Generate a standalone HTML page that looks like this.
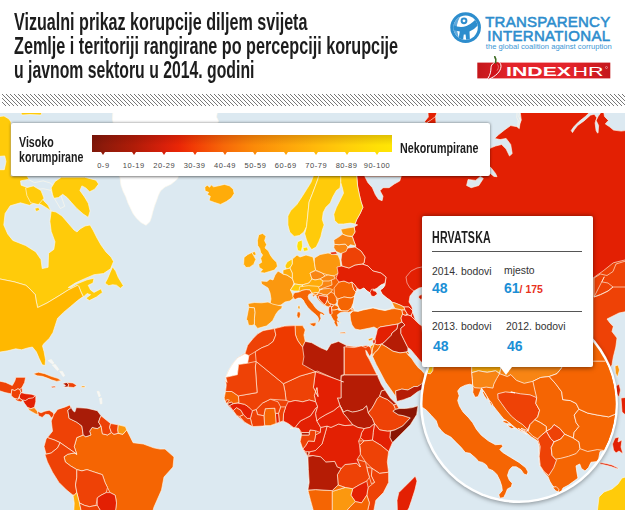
<!DOCTYPE html>
<html><head><meta charset="utf-8"><title>Indeks percepcije korupcije 2014</title>
<style>
html,body{margin:0;padding:0;background:#fff;}
body{width:625px;height:510px;overflow:hidden;position:relative;font-family:"Liberation Sans",sans-serif;}
.t{position:absolute;left:14px;white-space:nowrap;font-size:24px;font-weight:bold;color:#1d1d1d;transform-origin:0 0;line-height:24px;}
#map{position:absolute;left:0;top:113px;width:625px;height:397px;overflow:hidden;background:#dce9f1;}
#hatch{position:absolute;left:2px;top:93px;width:623px;height:13px;
 background:repeating-linear-gradient(45deg,#fff 0,#fff 1.9px,#8a8a8a 1.9px,#8a8a8a 2.8px);}
#legend{position:absolute;left:11px;top:123px;width:479px;height:53px;background:#fff;border-radius:2px;box-shadow:0 .5px 3px rgba(0,0,0,.55);}
#bar{position:absolute;left:81px;top:12px;width:300px;height:16.6px;
 background:linear-gradient(180deg,rgba(60,0,0,.16),rgba(60,0,0,0) 60%),linear-gradient(90deg,#7e1709 0%,#8e1a0a 4%,#b01c08 14%,#d8200a 24%,#ea2606 29%,#f23c05 34%,#f76808 44%,#fb8a08 54%,#fea30a 64.5%,#ffb90a 74.5%,#ffcd0a 84.5%,#ffe005 95%,#ffe605 100%);}
.lg{position:absolute;font-weight:bold;font-size:14px;color:#1d1d1d;white-space:nowrap;transform-origin:0 0;transform:scaleX(.76);line-height:14px;}
.lb{position:absolute;top:37.6px;width:40px;margin-left:-20px;text-align:center;font-size:7.5px;color:#484848;letter-spacing:.55px;line-height:9px;}
.tk{position:absolute;top:28.5px;width:0;height:0;border-left:2px solid transparent;border-right:2px solid transparent;margin-left:-2px;}
#tip{position:absolute;left:422px;top:215.7px;width:171px;height:151.8px;background:#fff;border-radius:2px;box-shadow:0 .5px 5px rgba(0,0,0,.5);}
#tip:after{content:"";position:absolute;left:78px;top:151px;border-left:6.5px solid transparent;border-right:6.5px solid transparent;border-top:8px solid #fff;}
.hr{position:absolute;left:10px;width:150px;height:1px;background:#555;}
.k{position:absolute;font-size:10.4px;color:#333;white-space:nowrap;line-height:11px;}
.v{position:absolute;font-size:14px;font-weight:bold;color:#1b8fd6;white-space:nowrap;line-height:14px;}
</style></head><body>

<div class="t" style="top:10px;transform:scaleX(.6714)">Vizualni prikaz korupcije diljem svijeta</div>
<div class="t" style="top:34.2px;transform:scaleX(.6745)">Zemlje i teritoriji rangirane po percepciji korupcije</div>
<div class="t" style="top:57.7px;transform:scaleX(.658)">u javnom sektoru u 2014. godini</div>
<svg width="623" height="12" style="position:absolute;left:2px;top:94px" shape-rendering="crispEdges"><defs><pattern id="hp" width="4" height="4" patternUnits="userSpaceOnUse"><rect x="0" y="0" width="1" height="1" fill="#787878"/><rect x="1" y="1" width="1" height="1" fill="#787878"/><rect x="2" y="2" width="1" height="1" fill="#787878"/><rect x="3" y="3" width="1" height="1" fill="#787878"/></pattern></defs><rect width="623" height="12" fill="url(#hp)"/></svg>
<svg width="180" height="92" viewBox="445 0 180 92" style="position:absolute;left:445px;top:0">
<defs><linearGradient id="rg" x1="0" x2="1" y1="0" y2="0"><stop offset="0" stop-color="#c4161a"/><stop offset=".25" stop-color="#e3232a"/><stop offset=".7" stop-color="#e3232a"/><stop offset="1" stop-color="#c4161a"/></linearGradient>
<clipPath id="lc"><circle cx="465.6" cy="27.6" r="12.2"/></clipPath></defs>
<circle cx="465.6" cy="27.6" r="15.3" fill="#2d8dcd"/>
<circle cx="465.6" cy="27.6" r="12.2" fill="#fff"/>
<g clip-path="url(#lc)">
<path d="M452 14 L462 14 Q456 22 457 30 Q458 38 462 42 L452 42 Z" fill="#5fa9dc"/>
<path d="M453 25 Q460 28.5 466.5 26 Q473.5 23 477.5 16.5 L481.5 20.5 Q476 29 469.5 31.5 L470 42 L466.3 42 L465.6 34.5 L463.8 34.5 L462.8 42 L458 42 L459.8 31.5 Q456 30.8 452.5 29.5 Z" fill="#2d8dcd"/>
<circle cx="464" cy="20.8" r="3.4" fill="#2d8dcd"/><circle cx="464" cy="20.8" r="1.4" fill="#fff"/>
</g>
<text x="485.2" y="26.7" font-family="Liberation Sans, sans-serif" font-size="15" fill="#2d8dcd" stroke="#2d8dcd" stroke-width=".55" textLength="125" lengthAdjust="spacing">TRANSPARENCY</text>
<text x="487.2" y="40.6" font-family="Liberation Sans, sans-serif" font-size="15" fill="#2d8dcd" stroke="#2d8dcd" stroke-width=".55" textLength="123" lengthAdjust="spacing">INTERNATIONAL</text>
<text x="485.8" y="48.6" font-family="Liberation Sans, sans-serif" font-size="7" fill="#3d97d4" textLength="126" lengthAdjust="spacingAndGlyphs">the global coalition against corruption</text>
<rect x="477.3" y="62.6" width="133" height="15.8" fill="url(#rg)"/>
<path d="M493.6 63.2 C496.5 60.2 501.2 61.8 501 66.4 C500.8 71.6 495.2 76.6 488.8 79.2 C488 79.4 487.6 78.6 488.1 78 C490.4 74.8 490.9 70.8 491 67.8 C491.1 65.4 492 64.4 493.6 63.2 Z" fill="#cf1219" stroke="#fff" stroke-width="1"/><path d="M497.5 64.5 C499 66 498.6 68.5 497 70.6" stroke="#f0827f" stroke-width=".8" fill="none"/>
<path d="M495.6 62.8 Q496.6 59.5 494.8 56.8" stroke="#3d6b22" stroke-width="1.7" fill="none" stroke-linecap="round"/>
<text x="506" y="75.6" font-family="Liberation Sans, sans-serif" font-size="12.8" font-weight="bold" fill="#fff" textLength="65" lengthAdjust="spacingAndGlyphs">INDEX</text>
<text x="572.5" y="75.6" font-family="Liberation Sans, sans-serif" font-size="12.8" fill="#fff" textLength="31" lengthAdjust="spacingAndGlyphs">HR</text>
<circle cx="606.5" cy="67.5" r="1" fill="none" stroke="#fff" stroke-width=".4"/>
</svg>
<div id="map"><svg width="625" height="397" viewBox="0 113 625 397" style="position:absolute;left:0;top:0">
<polygon points="-4.0,117.0 4.0,116.0 9.0,119.0 11.0,122.0 11.0,176.0 27.0,176.0 31.0,183.0 27.0,187.0 34.0,190.0 41.0,196.0 44.0,201.0 48.0,205.0 51.0,211.0 56.0,212.0 62.0,216.0 68.0,223.0 74.0,230.0 77.0,232.0 80.0,229.0 85.0,226.0 90.0,225.0 93.0,230.0 97.0,238.0 101.0,245.0 106.0,252.0 111.0,257.0 113.5,261.5 110.6,268.8 103.5,273.5 94.0,274.7 84.7,278.7 75.3,283.0 68.2,287.6 70.6,287.8 77.6,283.6 87.0,279.8 94.0,278.2 93.0,283.0 88.2,285.3 90.6,290.0 94.0,292.4 101.0,288.8 102.4,292.4 96.5,297.0 89.4,300.6 85.9,298.2 90.6,294.7 87.0,293.5 83.5,297.0 81.2,292.4 78.8,286.5 77.6,285.3 73.0,287.6 68.2,290.0 58.8,295.9 47.0,303.0 37.6,307.6 36.0,300.0 35.3,294.7 30.0,289.0 25.9,285.3 14.1,281.8 -4.0,278.2" fill="#ffcb0a" stroke="rgba(255,248,235,.75)" stroke-width="0.85" stroke-linejoin="round" />
<polygon points="19.0,109.0 43.0,109.0 41.0,115.0 30.0,114.5 22.0,115.0" fill="#ffcb0a" stroke="rgba(255,248,235,.75)" stroke-width="0.85" stroke-linejoin="round" />
<polygon points="5.1,213.5 10.2,205.8 20.5,202.8 29.4,205.3 34.6,202.8 41.0,204.6 47.4,208.4 51.2,211.0 49.9,221.2 51.2,231.4 55.0,241.7 53.8,249.4 48.6,253.2 48.1,267.3 42.2,268.6 41.0,259.6 35.8,251.9 25.6,245.5 12.8,240.4 7.7,234.0 3.8,225.0" fill="#dce9f1" stroke="rgba(255,248,235,.75)" stroke-width="0.85" stroke-linejoin="round" />
<polygon points="-4.0,156.7 4.7,155.9 6.0,161.5 4.3,169.7 -4.0,169.7" fill="#dce9f1" stroke="rgba(255,248,235,.75)" stroke-width="0.85" stroke-linejoin="round" />
<polygon points="20.5,180.9 28.0,179.4 34.5,182.6 43.1,180.9 50.7,183.1 53.9,186.9 51.3,190.4 43.1,188.7 34.5,189.5 25.9,186.9 21.1,185.2" fill="#dce9f1" stroke="rgba(255,248,235,.75)" stroke-width="0.85" stroke-linejoin="round" />
<polygon points="53.9,186.9 59.3,191.2 62.5,199.9 64.7,206.3 60.4,208.5 56.5,202.0 52.8,195.6 51.3,190.4" fill="#dce9f1" stroke="rgba(255,248,235,.75)" stroke-width="0.85" stroke-linejoin="round" />
<polygon points="25.6,187.9 33.3,185.9 41.0,190.5 44.0,198.2 38.4,204.6 30.7,202.8 26.9,195.6" fill="#ffcb0a" stroke="rgba(255,248,235,.75)" stroke-width="0.85" stroke-linejoin="round" />
<polygon points="34.6,208.4 38.4,207.4 39.9,209.9 36.4,211.5" fill="#ffcb0a" stroke="rgba(255,248,235,.75)" stroke-width="0.85" stroke-linejoin="round" />
<polygon points="52.5,194.3 51.2,187.9 55.0,181.5 61.4,177.2 84.5,177.2 96.0,180.2 98.6,184.1 94.7,189.2 89.6,191.8 85.8,187.9 81.9,185.9 79.9,190.5 84.5,196.9 88.3,203.3 90.1,211.0 88.3,217.4 83.2,214.0 76.8,208.4 71.7,202.8 67.1,197.6 62.7,194.3 58.4,197.6 53.8,198.2" fill="#ffcb0a" stroke="rgba(255,248,235,.75)" stroke-width="0.85" stroke-linejoin="round" />
<polygon points="112.6,266.8 115.7,271.1 118.3,277.5 123.4,285.7 120.3,288.3 116.5,285.2 112.6,284.7 108.8,285.7 105.0,283.2 107.5,278.8 110.1,272.4" fill="#ffcb0a" stroke="rgba(255,248,235,.75)" stroke-width="0.85" stroke-linejoin="round" />
<polygon points="-4.0,278.2 14.1,281.8 25.9,285.3 30.0,289.0 35.3,294.7 36.0,300.0 37.6,307.6 47.0,303.0 58.8,295.9 68.2,290.0 73.0,287.6 77.6,285.3 78.8,286.5 81.2,292.4 83.5,297.0 82.4,297.1 77.6,300.6 70.6,306.5 63.5,312.4 57.6,318.2 55.3,325.3 53.0,332.4 49.4,338.2 43.5,344.1 42.5,346.0 44.1,351.8 45.5,359.6 45.1,365.5 42.2,364.8 39.2,358.6 36.3,351.8 32.4,347.0 27.5,348.0 21.6,349.8 15.7,348.8 7.8,350.8 -4.0,352.7" fill="#ffb800" stroke="rgba(255,248,235,.75)" stroke-width="0.85" stroke-linejoin="round" />
<polygon points="113.0,109.0 218.0,109.0 216.5,117.0 218.5,121.0 217.0,125.0 200.0,150.0 180.0,170.0 177.7,178.6 175.0,181.0 171.0,184.3 165.0,187.0 160.4,191.0 158.3,195.5 156.5,200.7 154.5,206.0 152.7,212.2 151.5,217.0 149.8,221.8 146.0,225.3 141.0,222.5 136.3,218.0 133.0,213.5 130.6,208.4 128.0,203.0 125.8,196.8 123.0,191.0 121.0,185.3 120.0,177.6 116.0,170.0 113.5,125.0 112.5,119.0" fill="#ffffff" stroke="rgba(255,248,235,.75)" stroke-width="0.85" stroke-linejoin="round" />
<polygon points="204.8,187.2 207.2,185.2 209.7,187.2 211.1,184.8 213.6,186.8 218.5,185.8 224.4,184.4 229.3,185.8 233.2,189.1 234.2,193.6 231.3,198.1 226.4,201.5 220.5,204.4 214.6,202.5 209.1,200.5 210.3,196.2 207.2,194.6 208.7,192.3 205.2,191.1" fill="#ffac0a" stroke="rgba(255,248,235,.75)" stroke-width="0.85" stroke-linejoin="round" />
<polygon points="-4.0,380.4 5.6,382.4 12.3,385.5 14.8,381.1 15.9,377.3 25.6,377.3 24.6,382.4 22.0,387.5 20.0,389.6 17.9,388.8 14.8,390.6 11.8,389.6 11.3,393.9 5.1,392.6 -4.0,389.6" fill="#ee4206" stroke="rgba(255,248,235,.75)" stroke-width="0.85" stroke-linejoin="round" />
<polygon points="11.8,389.6 14.8,390.6 17.9,388.8 20.0,389.6 21.0,392.6 19.5,395.7 17.9,399.3 14.1,398.3 11.3,395.7 11.3,393.9" fill="#ee4206" stroke="rgba(255,248,235,.75)" stroke-width="0.85" stroke-linejoin="round" />
<polygon points="20.0,389.6 22.0,387.5 22.5,392.1 21.0,392.6" fill="#ee4206" stroke="rgba(255,248,235,.75)" stroke-width="0.85" stroke-linejoin="round" />
<polygon points="21.0,392.6 25.6,393.7 31.2,394.2 35.8,395.7 32.8,398.3 28.7,398.8 25.6,400.8 22.5,400.3 19.5,398.3 19.5,395.7" fill="#e32003" stroke="rgba(255,248,235,.75)" stroke-width="0.85" stroke-linejoin="round" />
<polygon points="14.1,398.3 17.9,399.3 19.5,398.3 22.5,400.3 21.0,401.9 16.9,400.8" fill="#ee4206" stroke="rgba(255,248,235,.75)" stroke-width="0.85" stroke-linejoin="round" />
<polygon points="22.5,400.0 25.6,400.5 28.7,398.4 32.8,397.9 35.8,395.4 35.8,401.8 34.3,407.6 30.7,408.7 27.6,407.6 24.6,403.6" fill="#e32003" stroke="rgba(255,248,235,.75)" stroke-width="0.85" stroke-linejoin="round" />
<polygon points="27.6,407.6 30.7,408.7 34.3,407.6 37.4,411.2 38.4,414.8 35.3,413.8 31.7,411.7 29.2,410.2" fill="#f88514" stroke="rgba(255,248,235,.75)" stroke-width="0.85" stroke-linejoin="round" />
<polygon points="37.4,411.2 41.0,412.8 44.8,411.2 49.2,410.2 53.3,412.8 54.3,415.8 51.2,417.9 49.2,414.8 45.6,414.3 42.2,417.4 38.4,415.8 38.4,414.8" fill="#ee4206" stroke="rgba(255,248,235,.75)" stroke-width="0.85" stroke-linejoin="round" />
<polygon points="33.3,373.7 38.4,372.2 44.8,373.7 51.2,376.3 57.6,378.3 61.4,380.4 56.8,381.4 51.2,379.8 48.6,378.6 42.2,376.3 37.1,375.8" fill="#f56503" stroke="rgba(255,248,235,.75)" stroke-width="0.85" stroke-linejoin="round" />
<polygon points="62.7,383.4 67.1,382.4 68.6,384.5 68.1,387.0 63.5,387.0 65.5,385.5" fill="#b51c05" stroke="rgba(255,248,235,.75)" stroke-width="0.85" stroke-linejoin="round" />
<polygon points="67.1,382.4 73.0,382.9 76.8,385.5 73.7,387.5 68.1,387.0 68.6,384.5" fill="#ee4206" stroke="rgba(255,248,235,.75)" stroke-width="0.85" stroke-linejoin="round" />
<polygon points="50.7,386.5 55.0,386.0 55.8,387.5 52.2,387.8" fill="#ee4206" stroke="rgba(255,248,235,.75)" stroke-width="0.85" stroke-linejoin="round" />
<polygon points="48.0,360.6 51.4,359.6 53.9,363.1 52.5,363.9" fill="#f4f7f9" stroke="rgba(255,248,235,.75)" stroke-width="0.85" stroke-linejoin="round" />
<polygon points="52.5,365.1 55.3,364.5 58.8,369.4 57.3,370.6" fill="#f4f7f9" stroke="rgba(255,248,235,.75)" stroke-width="0.85" stroke-linejoin="round" />
<polygon points="59.8,371.4 62.4,371.4 64.7,375.7 63.1,376.5" fill="#f4f7f9" stroke="rgba(255,248,235,.75)" stroke-width="0.85" stroke-linejoin="round" />
<polygon points="97.1,391.4 99.0,391.4 100.4,395.9 99.0,396.9" fill="#f4f7f9" stroke="rgba(255,248,235,.75)" stroke-width="0.85" stroke-linejoin="round" />
<polygon points="99.6,398.4 101.6,398.0 102.0,403.7 100.4,403.9" fill="#f4f7f9" stroke="rgba(255,248,235,.75)" stroke-width="0.85" stroke-linejoin="round" />
<polygon points="81.4,386.0 85.0,386.0 85.0,387.5 81.4,387.5" fill="#fb980f" stroke="rgba(255,248,235,.75)" stroke-width="0.85" stroke-linejoin="round" />
<polygon points="84.0,470.0 125.0,470.0 125.0,514.0 84.0,514.0" fill="#ee4206" stroke="rgba(255,248,235,.75)" stroke-width="0.85" stroke-linejoin="round" />
<polygon points="83.2,435.0 85.8,436.8 90.9,435.0 89.6,431.2 92.2,427.4 97.3,428.6 101.1,426.1 102.4,433.8 107.5,435.0 111.4,432.5 113.9,434.3 118.3,433.3 122.9,434.3 126.7,429.9 129.3,435.0 133.1,442.7 143.4,444.0 153.6,447.8 160.0,449.1 165.0,449.0 174.0,457.0 173.0,467.0 164.0,477.0 161.5,490.0 154.0,507.0 152.0,514.0 115.0,514.0 116.5,502.9 115.2,495.2 110.1,492.6 107.5,487.5 105.0,482.4 102.4,474.7 94.7,472.2 87.0,469.6 81.9,470.9 76.8,469.6 70.4,465.8 65.3,461.9 64.0,456.8 67.8,454.2 74.2,453.0 76.8,454.2 74.2,446.6 76.8,437.6" fill="#f56503" stroke="rgba(255,248,235,.75)" stroke-width="0.85" stroke-linejoin="round" />
<polygon points="53.8,414.6 57.6,409.4 65.3,406.9 69.6,405.1 71.2,407.6 67.8,410.2 69.1,418.4 76.8,422.2 81.9,426.1 83.2,435.0 76.8,437.6 74.2,446.6 76.8,454.2 60.2,442.7 55.0,440.2 47.4,437.6 52.5,431.2 51.2,421.0" fill="#ee4206" stroke="rgba(255,248,235,.75)" stroke-width="0.85" stroke-linejoin="round" />
<polygon points="71.2,407.6 73.0,410.7 74.8,412.0 76.3,407.6 87.0,408.2 97.3,410.7 101.1,415.8 99.8,418.4 98.6,422.2 101.1,426.1 97.3,428.6 92.2,427.4 89.6,431.2 90.9,435.0 85.8,436.8 83.2,435.0 81.9,426.1 76.8,422.2 69.1,418.4 67.8,410.2" fill="#a81c08" stroke="rgba(255,248,235,.75)" stroke-width="0.85" stroke-linejoin="round" />
<polygon points="101.1,415.8 107.5,421.0 110.6,423.5 109.6,427.4 111.4,432.5 107.5,435.0 102.4,433.8 101.1,426.1 98.6,422.2 99.8,418.4" fill="#ee4206" stroke="rgba(255,248,235,.75)" stroke-width="0.85" stroke-linejoin="round" />
<polygon points="110.6,423.5 118.3,424.8 117.8,429.9 118.3,433.3 113.9,434.3 111.4,432.5 109.6,427.4" fill="#ee4206" stroke="rgba(255,248,235,.75)" stroke-width="0.85" stroke-linejoin="round" />
<polygon points="118.3,424.8 125.4,426.6 126.7,429.9 122.9,434.3 118.3,433.3 117.8,429.9" fill="#fb980f" stroke="rgba(255,248,235,.75)" stroke-width="0.85" stroke-linejoin="round" />
<polygon points="47.4,437.6 55.0,440.2 60.2,442.7 57.6,447.8 51.2,453.0 46.1,454.2 44.0,446.6 46.1,438.9" fill="#ee4206" stroke="rgba(255,248,235,.75)" stroke-width="0.85" stroke-linejoin="round" />
<polygon points="46.1,454.2 51.2,453.0 57.6,447.8 60.2,442.7 76.8,454.2 74.2,453.0 67.8,454.2 64.0,456.8 65.3,461.9 70.4,465.8 76.8,469.6 76.8,477.3 75.5,485.0 76.8,492.6 74.2,495.2 73.0,495.2 66.6,490.1 58.9,482.4 52.5,472.2 47.4,461.9 44.8,454.2" fill="#ee4206" stroke="rgba(255,248,235,.75)" stroke-width="0.85" stroke-linejoin="round" />
<polygon points="76.8,469.6 81.9,470.9 87.0,469.6 94.7,472.2 102.4,474.7 105.0,482.4 107.5,487.5 106.2,492.6 101.1,495.2 97.3,497.8 96.0,505.4 89.6,506.7 84.5,505.4 79.4,502.9 76.8,492.6 75.5,485.0 76.8,477.3" fill="#ee4206" stroke="rgba(255,248,235,.75)" stroke-width="0.85" stroke-linejoin="round" />
<polygon points="97.3,497.8 101.1,495.2 106.2,492.6 110.1,492.6 115.2,495.2 116.5,502.9 115.2,514.0 102.4,514.0 97.3,505.4" fill="#e32003" stroke="rgba(255,248,235,.75)" stroke-width="0.85" stroke-linejoin="round" />
<polygon points="73.0,495.2 74.2,495.2 76.8,492.6 79.4,502.9 81.9,514.0 73.7,514.0 74.2,502.9" fill="#ffac0a" stroke="rgba(255,248,235,.75)" stroke-width="0.85" stroke-linejoin="round" />
<polygon points="81.9,514.0 79.4,502.9 84.5,505.4 89.6,506.7 96.0,505.4 97.3,505.4 102.4,514.0" fill="#ee4206" stroke="rgba(255,248,235,.75)" stroke-width="0.85" stroke-linejoin="round" />
<polygon points="266.8,329.9 274.5,328.6 284.7,326.1 295.0,325.6 302.6,325.6 305.2,329.9 303.9,335.0 305.2,341.4 311.6,342.7 320.6,347.8 327.0,350.4 330.8,344.0 338.5,341.4 346.2,345.3 344.8,345.5 356.3,346.8 366.6,345.5 368.2,345.9 372.6,348.5 371.8,352.9 369.6,356.5 366.5,350.8 365.6,350.3 366.5,354.7 369.1,359.1 373.5,367.9 377.9,376.8 381.5,384.7 385.0,390.0 390.3,397.9 396.5,404.1 399.1,408.5 405.3,408.5 412.3,407.6 417.6,405.9 418.0,405.6 416.7,414.6 410.3,424.8 400.1,435.0 392.4,442.7 388.6,451.7 387.3,461.9 388.6,472.2 388.6,482.4 383.4,492.6 375.8,500.3 373.2,514.0 314.3,514.0 310.5,500.3 307.9,490.1 309.2,482.4 308.4,469.6 307.9,456.8 302.8,449.1 300.2,441.4 301.5,435.0 299.0,428.6 295.1,427.4 290.0,428.6 293.4,427.4 288.2,423.5 283.1,421.0 275.4,424.0 270.3,425.6 262.6,426.1 252.4,426.6 244.7,422.2 237.0,415.8 231.9,409.4 228.1,405.6 225.5,401.8 224.2,397.9 225.5,391.5 226.3,385.1 225.5,380.0 227.1,382.4 225.8,377.3 228.4,370.9 232.2,364.5 237.4,358.1 245.0,353.0 247.6,345.3 252.7,338.9 257.8,333.8 263.0,330.7" fill="#ee4206" stroke="rgba(255,248,235,.75)" stroke-width="0.85" stroke-linejoin="round" />
<polygon points="248.9,355.5 247.6,363.2 238.6,364.5 237.4,374.7 225.8,377.3 228.4,370.9 232.2,364.5 237.4,358.1 245.0,353.7" fill="#ffffff" stroke="rgba(255,248,235,.75)" stroke-width="0.85" stroke-linejoin="round" />
<polygon points="266.8,329.9 274.5,328.6 275.8,335.0 273.2,341.4 268.1,345.3 261.7,347.8 255.3,351.7 248.9,355.5 245.0,353.7 247.6,345.3 252.7,338.9 257.8,333.8 263.0,330.7" fill="#ee4206" stroke="rgba(255,248,235,.75)" stroke-width="0.85" stroke-linejoin="round" />
<polygon points="295.0,325.6 302.6,325.6 305.2,329.9 303.9,335.0 305.2,341.4 302.6,347.1 300.1,344.0 297.5,340.2 295.5,335.0" fill="#f56503" stroke="rgba(255,248,235,.75)" stroke-width="0.85" stroke-linejoin="round" />
<polygon points="305.2,341.4 311.6,342.7 320.6,347.8 327.0,350.4 330.8,344.0 338.5,341.4 346.2,345.3 346.7,356.8 344.0,346.8 344.0,374.5 341.0,375.5 341.0,381.4 317.4,371.1 309.0,373.7 302.6,367.3 301.3,354.5 302.6,347.1" fill="#b51c05" stroke="rgba(255,248,235,.75)" stroke-width="0.85" stroke-linejoin="round" />
<polygon points="344.4,346.8 354.1,347.6 361.2,345.9 365.6,347.6 368.2,345.9 372.6,348.5 371.8,352.9 369.6,356.5 366.5,350.8 365.6,350.3 366.5,354.7 369.1,359.1 373.5,367.9 377.9,376.8 377.9,375.0 344.4,375.0" fill="#ee4206" stroke="rgba(255,248,235,.75)" stroke-width="0.85" stroke-linejoin="round" />
<polygon points="344.4,375.0 377.9,375.0 377.9,376.8 381.5,384.7 385.0,390.0 381.5,390.9 379.7,396.2 377.1,398.8 374.4,404.1 371.8,408.5 368.2,412.9 366.5,405.9 362.9,409.4 357.6,411.2 352.4,412.1 347.1,410.3 343.5,412.1 340.0,405.5 337.4,397.9 341.0,397.9 341.0,381.3 341.4,376.2" fill="#b51c05" stroke="rgba(255,248,235,.75)" stroke-width="0.85" stroke-linejoin="round" />
<polygon points="340.0,405.5 343.5,412.1 347.1,410.3 352.4,412.1 357.6,411.2 362.9,409.4 366.5,405.9 368.2,412.9 370.9,416.5 372.4,418.4 374.5,423.5 369.9,427.4 364.2,428.6 357.8,427.4 352.7,424.8 347.6,418.4 343.3,413.3" fill="#b51c05" stroke="rgba(255,248,235,.75)" stroke-width="0.85" stroke-linejoin="round" />
<polygon points="381.5,390.9 385.0,390.0 390.3,397.9 396.5,404.1 393.8,405.0 387.6,399.7 383.2,397.9 379.7,396.2" fill="#b51c05" stroke="rgba(255,248,235,.75)" stroke-width="0.85" stroke-linejoin="round" />
<polygon points="368.2,412.9 371.8,408.5 374.4,404.1 377.1,398.8 379.7,396.2 383.2,397.9 387.6,399.7 393.8,405.0 395.6,409.4 392.9,411.2 398.2,414.7 403.9,415.8 410.3,417.9 402.6,426.1 395.0,429.9 387.3,431.2 379.6,429.9 374.5,423.5 372.4,418.4 370.9,416.5" fill="#ee4206" stroke="rgba(255,248,235,.75)" stroke-width="0.85" stroke-linejoin="round" />
<polygon points="393.8,405.0 396.5,404.1 399.1,408.5 395.6,409.4" fill="#ee4206" stroke="rgba(255,248,235,.75)" stroke-width="0.85" stroke-linejoin="round" />
<polygon points="395.6,409.4 399.1,408.5 405.3,408.5 412.3,407.6 417.6,405.9 418.0,405.6 416.7,414.6 410.3,424.8 400.1,435.0 392.4,442.7 389.8,437.6 390.4,431.2 395.0,429.9 402.6,426.1 410.3,417.9 403.9,415.8 398.2,414.7 392.9,411.2" fill="#8a1503" stroke="rgba(255,248,235,.75)" stroke-width="0.85" stroke-linejoin="round" />
<polygon points="374.5,423.5 379.6,429.9 387.3,431.2 390.4,431.2 389.8,437.6 392.4,442.7 388.6,451.7 380.9,445.3 372.4,440.2 373.2,432.5" fill="#e32003" stroke="rgba(255,248,235,.75)" stroke-width="0.85" stroke-linejoin="round" />
<polygon points="364.2,428.6 369.9,427.4 374.5,423.5 373.2,432.5 372.4,440.2 364.2,440.9 360.4,437.6 361.7,432.5" fill="#e32003" stroke="rgba(255,248,235,.75)" stroke-width="0.85" stroke-linejoin="round" />
<polygon points="364.2,440.9 372.4,440.2 380.9,445.3 388.6,451.7 387.3,461.9 388.6,472.2 379.6,473.4 371.9,468.3 365.5,461.9 360.4,454.2 359.6,445.3" fill="#ee4206" stroke="rgba(255,248,235,.75)" stroke-width="0.85" stroke-linejoin="round" />
<polygon points="358.6,440.9 364.2,440.9 359.6,445.3 360.4,451.7 357.1,450.4" fill="#ee4206" stroke="rgba(255,248,235,.75)" stroke-width="0.85" stroke-linejoin="round" />
<polygon points="388.6,472.2 388.6,482.4 383.4,492.6 375.8,500.3 373.2,514.0 366.8,514.0 369.4,502.9 366.8,495.2 368.1,487.5 374.5,482.4 371.4,476.0 371.9,468.3 379.6,473.4" fill="#ee4206" stroke="rgba(255,248,235,.75)" stroke-width="0.85" stroke-linejoin="round" />
<polygon points="366.8,467.0 371.9,468.3 371.4,476.0 374.5,482.4 371.4,483.7 369.4,477.3 367.8,472.2" fill="#ee4206" stroke="rgba(255,248,235,.75)" stroke-width="0.85" stroke-linejoin="round" />
<polygon points="341.2,468.3 345.0,464.5 356.6,463.2 360.4,467.0 357.1,459.4 365.5,461.9 367.8,472.2 369.4,477.3 366.8,481.1 359.1,485.0 352.7,488.8 345.0,487.5 338.1,485.0 337.4,474.7" fill="#ee4206" stroke="rgba(255,248,235,.75)" stroke-width="0.85" stroke-linejoin="round" />
<polygon points="352.7,488.8 359.1,485.0 366.8,481.1 368.1,487.5 366.8,495.2 361.7,502.9 355.3,501.6 350.9,495.2" fill="#e32003" stroke="rgba(255,248,235,.75)" stroke-width="0.85" stroke-linejoin="round" />
<polygon points="332.2,491.4 345.0,487.5 352.7,488.8 350.9,495.2 355.3,501.6 350.2,506.7 343.8,514.0 332.2,514.0" fill="#fb980f" stroke="rgba(255,248,235,.75)" stroke-width="0.85" stroke-linejoin="round" />
<polygon points="307.9,490.1 315.6,489.6 332.2,490.6 338.1,485.0 345.0,487.5 332.2,491.4 332.2,514.0 314.3,514.0 310.5,500.3" fill="#f56503" stroke="rgba(255,248,235,.75)" stroke-width="0.85" stroke-linejoin="round" />
<polygon points="343.8,514.0 350.2,506.7 355.3,501.6 361.7,502.9 366.8,495.2 369.4,502.9 366.8,514.0" fill="#f56503" stroke="rgba(255,248,235,.75)" stroke-width="0.85" stroke-linejoin="round" />
<polygon points="307.9,456.8 313.0,455.5 320.7,456.8 325.8,461.9 334.8,461.4 337.4,467.0 341.2,468.3 337.4,474.7 338.1,485.0 332.2,490.6 315.6,489.6 307.9,490.1 309.2,482.4 308.4,469.6" fill="#b51c05" stroke="rgba(255,248,235,.75)" stroke-width="0.85" stroke-linejoin="round" />
<polygon points="305.9,451.7 308.4,451.2 308.9,454.8 306.9,455.3" fill="#b51c05" stroke="rgba(255,248,235,.75)" stroke-width="0.85" stroke-linejoin="round" />
<polygon points="308.4,455.5 313.0,455.5 320.7,456.8 325.8,461.9 334.8,461.4 337.4,467.0 341.2,468.3 345.0,464.5 356.6,463.2 360.4,467.0 357.1,459.4 360.4,454.2 359.6,445.3 358.6,440.9 360.4,437.6 361.7,432.5 364.2,428.6 357.8,427.4 352.7,424.8 345.0,425.6 338.6,424.0 331.0,427.4 327.1,426.1 324.6,435.0 322.0,444.0 315.6,450.4 310.0,451.7" fill="#e32003" stroke="rgba(255,248,235,.75)" stroke-width="0.85" stroke-linejoin="round" />
<polygon points="302.8,449.1 305.9,451.7 310.0,451.7 315.6,450.4 322.0,444.0 324.6,435.0 327.1,426.1 320.7,427.4 320.2,432.5 315.6,435.0 314.3,441.4 308.4,440.9 305.9,445.3" fill="#e32003" stroke="rgba(255,248,235,.75)" stroke-width="0.85" stroke-linejoin="round" />
<polygon points="300.2,441.4 301.5,435.0 309.2,435.0 310.0,429.9 315.6,430.7 315.6,435.0 314.3,441.4 308.4,440.9 305.9,445.3 302.8,449.1" fill="#ee4206" stroke="rgba(255,248,235,.75)" stroke-width="0.85" stroke-linejoin="round" />
<polygon points="301.5,432.5 309.2,432.5 309.2,435.0 301.5,435.0" fill="#b51c05" stroke="rgba(255,248,235,.75)" stroke-width="0.85" stroke-linejoin="round" />
<polygon points="295.1,427.4 299.0,428.6 301.5,432.5 309.2,432.5 310.0,429.9 315.6,430.7 320.2,432.5 320.7,427.4 316.9,421.0 315.6,413.3 317.6,406.9 315.6,408.2 310.5,415.8 305.4,418.4 300.2,421.0" fill="#e32003" stroke="rgba(255,248,235,.75)" stroke-width="0.85" stroke-linejoin="round" />
<polygon points="320.7,427.4 327.1,426.1 331.0,427.4 338.6,424.0 345.0,425.6 352.7,424.8 347.6,418.4 343.3,413.3 339.9,405.6 333.5,410.7 325.8,414.6 319.4,418.4 316.9,421.0" fill="#e32003" stroke="rgba(255,248,235,.75)" stroke-width="0.85" stroke-linejoin="round" />
<polygon points="315.4,371.7 343.6,381.9 341.0,381.4 341.0,398.0 337.4,397.9 339.9,405.6 333.5,410.7 325.8,414.6 319.4,418.4 316.9,421.0 315.6,413.3 317.6,406.9 315.6,401.8 314.3,395.4 316.9,387.7 318.0,396.5 313.4,387.5" fill="#e32003" stroke="rgba(255,248,235,.75)" stroke-width="0.85" stroke-linejoin="round" />
<polygon points="283.4,383.7 300.1,376.0 315.4,371.7 313.4,387.5 318.0,396.5 316.9,387.7 314.3,395.4 315.6,401.8 309.2,400.0 302.8,401.8 295.1,400.5 290.0,401.8 286.0,400.3 285.2,392.6" fill="#ee4206" stroke="rgba(255,248,235,.75)" stroke-width="0.85" stroke-linejoin="round" />
<polygon points="290.0,401.8 295.1,400.5 302.8,401.8 309.2,400.0 315.6,401.8 317.6,406.9 315.6,408.2 310.5,415.8 305.4,418.4 300.2,421.0 295.1,427.4 290.0,428.6 293.4,427.4 288.2,423.5 283.1,421.0 283.6,413.3 285.7,406.9 288.2,401.8" fill="#e32003" stroke="rgba(255,248,235,.75)" stroke-width="0.85" stroke-linejoin="round" />
<polygon points="283.1,421.0 279.3,422.2 278.5,413.3 280.6,406.9 285.7,406.9 283.6,413.3" fill="#ee4206" stroke="rgba(255,248,235,.75)" stroke-width="0.85" stroke-linejoin="round" />
<polygon points="279.3,422.2 276.0,423.5 275.4,413.3 278.5,413.3" fill="#e32003" stroke="rgba(255,248,235,.75)" stroke-width="0.85" stroke-linejoin="round" />
<polygon points="276.0,423.5 270.3,425.6 264.7,425.6 263.9,415.8 265.2,408.7 274.9,408.2 275.4,413.3" fill="#f56503" stroke="rgba(255,248,235,.75)" stroke-width="0.85" stroke-linejoin="round" />
<polygon points="265.2,408.7 263.9,415.8 257.5,414.6 256.2,409.4 262.6,403.0 270.3,399.2 278.0,401.8 280.6,406.9 278.5,413.3 275.4,413.3 274.9,408.2" fill="#ee4206" stroke="rgba(255,248,235,.75)" stroke-width="0.85" stroke-linejoin="round" />
<polygon points="264.7,425.6 262.6,426.1 252.4,426.6 250.4,418.4 252.4,410.7 256.2,409.4 257.5,414.6 263.9,415.8" fill="#ee4206" stroke="rgba(255,248,235,.75)" stroke-width="0.85" stroke-linejoin="round" />
<polygon points="252.4,426.6 244.7,422.2 239.6,416.4 243.4,414.6 247.3,418.4 250.4,418.4" fill="#ee4206" stroke="rgba(255,248,235,.75)" stroke-width="0.85" stroke-linejoin="round" />
<polygon points="239.6,416.4 237.0,415.8 233.2,410.7 236.5,407.6 240.9,410.2 243.4,414.6" fill="#ee4206" stroke="rgba(255,248,235,.75)" stroke-width="0.85" stroke-linejoin="round" />
<polygon points="233.2,410.7 229.4,405.6 233.2,403.6 238.3,403.0 244.7,404.3 248.6,406.9 252.4,410.7 250.4,418.4 247.3,418.4 243.4,414.6 240.9,410.2 236.5,407.6" fill="#e32003" stroke="rgba(255,248,235,.75)" stroke-width="0.85" stroke-linejoin="round" />
<polygon points="229.4,405.6 226.8,403.6 231.4,402.0 233.2,403.6" fill="#b51c05" stroke="rgba(255,248,235,.75)" stroke-width="0.85" stroke-linejoin="round" />
<polygon points="225.5,401.8 224.2,397.9 225.5,391.5 231.9,391.5 238.3,395.9 239.1,402.5 233.2,403.6 231.4,402.0 226.8,403.6 229.4,400.0 226.8,399.5" fill="#f56503" stroke="rgba(255,248,235,.75)" stroke-width="0.85" stroke-linejoin="round" />
<polygon points="256.1,361.4 283.4,383.7 285.2,392.6 286.0,400.3 270.3,399.2 262.6,403.0 256.2,409.4 252.4,410.7 248.6,406.9 244.7,404.3 238.3,403.0 239.1,402.5 238.3,395.9 257.1,392.6 255.3,367.0" fill="#ee4206" stroke="rgba(255,248,235,.75)" stroke-width="0.85" stroke-linejoin="round" />
<polygon points="247.6,363.2 256.1,361.4 255.3,367.0 257.1,392.6 238.3,395.9 231.9,391.5 225.5,391.5 226.3,385.1 225.5,380.0 227.1,382.4 225.8,377.3 237.4,374.7 238.6,364.5" fill="#ee4206" stroke="rgba(255,248,235,.75)" stroke-width="0.85" stroke-linejoin="round" />
<polygon points="274.5,328.6 284.7,326.1 295.0,325.6 295.5,335.0 297.5,340.2 300.1,344.0 302.6,347.1 303.9,356.8 302.6,364.5 315.4,371.7 300.1,376.0 283.4,383.7 256.1,361.4 255.3,351.7 261.7,347.8 268.1,345.3 273.2,341.4 275.8,335.0" fill="#ee3a00" stroke="rgba(255,248,235,.75)" stroke-width="0.85" stroke-linejoin="round" />
<polygon points="415.4,476.0 417.0,481.1 414.9,490.1 411.6,500.3 409.0,508.0 405.2,514.0 397.5,514.0 397.0,500.3 398.8,492.6 403.9,487.5 409.0,482.4" fill="#e32003" stroke="rgba(255,248,235,.75)" stroke-width="0.85" stroke-linejoin="round" />
<polygon points="358.0,109.0 629.0,109.0 629.0,300.0 594.0,300.0 594.0,340.0 422.0,340.0 422.0,326.0 419.0,324.0 415.0,320.0 411.0,316.0 413.0,311.0 409.0,307.0 404.0,307.0 400.0,305.0 395.0,303.0 391.0,302.0 391.0,301.0 386.0,297.4 382.0,294.0 380.0,290.0 383.0,288.0 385.0,285.0 386.0,277.0 381.0,273.0 373.0,271.0 368.0,266.0 362.0,264.0 364.0,263.0 365.0,257.0 361.0,251.0 355.0,247.0 355.8,246.1 354.1,241.7 352.3,236.4 355.0,232.0 354.1,227.0 357.6,224.9 355.0,224.0 356.7,219.6 360.2,213.4 362.9,207.3 361.1,202.0 359.4,194.9 357.6,186.1 356.7,175.5" fill="#e32003" stroke="rgba(255,248,235,.75)" stroke-width="0.85" stroke-linejoin="round" />
<polygon points="345.0,109.0 427.7,109.0 436.2,109.0 433.2,117.1 427.1,123.2 424.7,126.2 345.0,126.2" fill="#dce9f1" stroke="none" stroke-width="0" stroke-linejoin="round" />
<polygon points="427.7,109.0 438.6,109.0 435.6,116.5 430.7,120.2 425.9,123.2 424.7,121.4 428.3,117.1" fill="#e32003" stroke="rgba(255,248,235,.75)" stroke-width="0.85" stroke-linejoin="round" />
<polygon points="438.6,109.0 519.8,109.0 521.3,120.2 518.3,126.9 510.7,125.6 504.6,129.9 498.5,134.8 494.6,138.4 500.1,139.6 506.1,138.4 510.7,144.5 512.2,153.6 509.5,156.0 506.1,149.0 501.6,144.5 495.5,146.0 490.3,148.1 487.9,150.6 487.9,126.2 436.2,126.2 435.6,116.5" fill="#dce9f1" stroke="rgba(255,248,235,.75)" stroke-width="0.85" stroke-linejoin="round" />
<polygon points="487.9,165.8 490.9,167.6 495.5,173.4 497.0,176.7 494.0,176.4 490.3,173.4 487.9,173.4" fill="#dce9f1" stroke="rgba(255,248,235,.75)" stroke-width="0.85" stroke-linejoin="round" />
<polygon points="468.1,179.5 475.7,180.4 480.3,176.4 483.3,178.5 478.8,185.5 471.2,187.7 466.6,185.5" fill="#dce9f1" stroke="rgba(255,248,235,.75)" stroke-width="0.85" stroke-linejoin="round" />
<polygon points="364.8,176.4 367.8,182.5 372.4,187.7 375.4,194.7 378.4,199.2 382.1,200.7 383.0,196.2 380.0,190.7 383.0,187.7 389.1,187.7 394.3,184.0 399.7,181.0 401.2,176.4" fill="#dce9f1" stroke="rgba(255,248,235,.75)" stroke-width="0.85" stroke-linejoin="round" />
<polygon points="572.5,132.6 574.6,129.3 577.6,125.5 584.0,120.9 590.4,115.2 594.3,114.2 596.8,117.8 595.1,122.9 596.1,130.6 597.6,133.2 598.1,132.6 598.6,125.5 596.1,120.4 598.1,116.5 603.2,109.0 593.0,109.0 585.3,116.5 578.9,121.6 573.8,126.8 571.2,130.6" fill="#dce9f1" stroke="rgba(255,248,235,.75)" stroke-width="0.85" stroke-linejoin="round" />
<polygon points="603.2,109.0 629.0,109.0 629.0,130.1 621.2,131.1 613.5,130.1 609.6,126.8 605.3,123.9 608.4,120.4 604.5,116.5" fill="#dce9f1" stroke="rgba(255,248,235,.75)" stroke-width="0.85" stroke-linejoin="round" />
<polygon points="517.5,109.0 520.0,109.0 518.8,116.5 520.3,120.4 519.3,128.6 517.7,127.5 518.3,120.9 516.7,117.3" fill="#dce9f1" stroke="rgba(255,248,235,.75)" stroke-width="0.85" stroke-linejoin="round" />
<polyline points="422.0,267.0 417.0,268.0 411.0,271.0 406.0,277.0 407.0,283.0 410.0,288.0 414.0,291.0" fill="none" stroke="rgba(255,255,255,.7)" stroke-width="0.7" stroke-linejoin="round"/>
<polygon points="593.0,278.0 603.0,271.0 613.3,262.8 629.0,259.0 629.0,311.0 619.0,313.0 613.0,316.0 607.0,319.0 610.0,323.0 613.3,326.5 612.0,331.6 617.0,338.0 615.8,347.0 613.3,357.0 612.0,364.8 608.0,372.0 593.0,372.0" fill="#ee4206" stroke="rgba(255,248,235,.75)" stroke-width="0.85" stroke-linejoin="round" />
<polygon points="594.0,278.0 600.5,274.0 607.0,275.5 613.0,271.5 616.0,264.0 629.0,260.0 629.0,287.0 613.0,287.0 608.0,291.0 600.5,294.6 594.0,297.0" fill="none" stroke="rgba(255,248,235,.75)" stroke-width="0.85" stroke-linejoin="round" />
<polygon points="594.0,297.0 600.5,294.6 608.0,291.0 613.0,287.0 608.0,283.0 601.8,281.9 604.3,276.8" fill="none" stroke="rgba(255,248,235,.75)" stroke-width="0.85" stroke-linejoin="round" />
<polygon points="615.0,366.0 618.0,365.0 619.5,370.0 617.5,377.0 615.5,373.0" fill="#fb980f" stroke="rgba(255,248,235,.75)" stroke-width="0.85" stroke-linejoin="round" />
<polygon points="616.0,386.0 619.0,384.0 620.5,390.0 619.0,397.0 616.5,394.0" fill="#e32003" stroke="rgba(255,248,235,.75)" stroke-width="0.85" stroke-linejoin="round" />
<polygon points="621.0,398.0 629.0,397.0 629.0,418.0 622.0,412.0" fill="#e32003" stroke="rgba(255,248,235,.75)" stroke-width="0.85" stroke-linejoin="round" />
<polygon points="612.5,444.0 615.0,438.0 619.0,437.0 618.0,442.0 622.0,440.0 621.0,447.0 623.0,454.0 619.0,451.0 616.0,453.0 613.5,450.0" fill="#e32003" stroke="rgba(255,248,235,.75)" stroke-width="0.85" stroke-linejoin="round" />
<polygon points="600.0,462.5 606.0,463.5 612.0,465.0 618.0,468.0 618.0,469.0 611.0,466.5 605.0,465.0 600.0,464.0" fill="#e32003" stroke="rgba(255,248,235,.75)" stroke-width="0.85" stroke-linejoin="round" />
<polygon points="599.0,497.0 604.0,492.0 612.0,489.0 618.0,484.0 622.0,478.0 629.0,476.0 629.0,514.0 597.0,514.0" fill="#ffcb0a" stroke="rgba(255,248,235,.75)" stroke-width="0.85" stroke-linejoin="round" />
<polygon points="322.0,266.0 345.0,266.0 350.0,275.0 352.0,290.0 345.0,300.0 330.0,300.0 322.0,290.0" fill="#f56503" stroke="rgba(255,248,235,.75)" stroke-width="0.85" stroke-linejoin="round" />
<polygon points="305.0,270.0 330.0,268.0 332.0,285.0 318.0,290.0 305.0,285.0" fill="#f88514" stroke="rgba(255,248,235,.75)" stroke-width="0.85" stroke-linejoin="round" />
<polygon points="313.5,175.5 310.9,182.6 306.5,189.6 302.0,196.7 296.8,204.6 290.6,210.8 287.9,216.1 287.9,224.9 289.7,232.0 294.1,236.4 299.4,235.5 303.8,232.0 306.5,226.7 307.3,219.6 308.2,210.8 309.1,202.0 312.6,193.2 315.3,186.1 317.9,179.1 318.8,175.5" fill="#ffcb0a" stroke="rgba(255,248,235,.75)" stroke-width="0.85" stroke-linejoin="round" />
<polygon points="318.8,175.5 340.8,175.5 340.8,182.6 340.0,187.9 336.4,190.5 332.9,196.7 330.3,202.9 325.9,207.3 323.2,212.6 322.3,219.6 324.1,224.9 322.3,230.2 320.9,236.4 318.8,241.7 316.2,247.0 311.7,249.6 309.1,246.1 306.5,239.9 304.7,233.7 306.5,226.7 307.3,219.6 308.2,210.8 309.1,202.0 312.6,193.2 315.3,186.1 317.9,179.1" fill="#ffcb0a" stroke="rgba(255,248,235,.75)" stroke-width="0.85" stroke-linejoin="round" />
<polygon points="340.8,175.5 356.7,175.5 357.6,186.1 359.4,194.9 361.1,202.0 362.9,207.3 360.2,213.4 356.7,219.6 355.0,224.0 350.5,223.1 343.5,224.0 338.2,224.0 334.7,220.5 333.8,214.3 336.4,207.3 340.0,200.2 343.5,193.2 342.6,188.8 340.8,182.6" fill="#ffcb0a" stroke="rgba(255,248,235,.75)" stroke-width="0.85" stroke-linejoin="round" />
<polygon points="297.6,241.7 302.0,239.9 302.6,246.1 301.2,251.4 297.6,250.5 296.8,246.1" fill="#ffe008" stroke="rgba(255,248,235,.75)" stroke-width="0.85" stroke-linejoin="round" />
<polygon points="302.9,247.8 307.3,247.0 308.2,250.5 303.8,251.4" fill="#ffe008" stroke="rgba(255,248,235,.75)" stroke-width="0.85" stroke-linejoin="round" />
<polygon points="258.7,234.8 262.6,233.4 266.0,236.2 264.6,240.7 266.6,244.6 265.0,247.9 268.5,251.1 270.5,255.4 273.4,259.3 276.6,262.3 277.4,266.2 274.4,270.1 269.5,271.5 264.6,273.0 260.1,272.5 262.6,269.5 259.3,267.5 258.7,264.2 261.7,262.3 260.7,258.3 262.6,255.0 260.7,252.5 259.7,248.5 257.7,245.6 257.4,240.7" fill="#ffac0a" stroke="rgba(255,248,235,.75)" stroke-width="0.85" stroke-linejoin="round" />
<polygon points="251.9,252.5 254.8,251.5 256.2,254.4 253.8,255.8" fill="#ffac0a" stroke="rgba(255,248,235,.75)" stroke-width="0.85" stroke-linejoin="round" />
<polygon points="244.0,257.4 247.9,254.4 251.9,252.5 253.8,255.8 255.8,259.3 253.8,264.2 249.9,267.2 246.0,267.5 243.6,264.2" fill="#ffac0a" stroke="rgba(255,248,235,.75)" stroke-width="0.85" stroke-linejoin="round" />
<polygon points="278.0,271.0 283.0,274.0 287.0,275.0 292.4,278.6 294.0,283.0 292.4,287.0 290.4,290.0 292.4,294.0 293.6,298.0 290.0,301.0 285.0,302.0 281.0,305.0 276.0,306.0 270.0,304.0 271.0,299.0 270.0,293.0 268.0,288.0 261.6,284.0 261.0,281.0 267.0,281.4 270.0,279.0 273.0,280.0 275.0,275.0" fill="#fb980f" stroke="rgba(255,248,235,.75)" stroke-width="0.85" stroke-linejoin="round" />
<polygon points="298.1,305.7 299.8,305.7 300.1,308.5 298.7,309.3 297.9,307.7" fill="#fb980f" stroke="rgba(255,248,235,.75)" stroke-width="0.85" stroke-linejoin="round" />
<polygon points="248.0,303.6 254.4,302.5 261.6,302.8 268.0,302.0 272.8,304.1 277.6,305.2 282.4,306.0 281.6,308.4 278.4,310.8 276.0,314.0 274.4,317.2 272.8,320.4 270.4,322.8 266.4,326.0 262.4,327.1 257.6,328.4 256.0,326.5 254.4,324.4 254.4,318.8 254.9,312.4 254.4,307.9 248.8,307.3" fill="#fb980f" stroke="rgba(255,248,235,.75)" stroke-width="0.85" stroke-linejoin="round" />
<polygon points="248.8,307.3 254.4,307.9 254.9,312.4 254.4,318.8 254.4,324.4 252.0,325.5 248.5,325.2 247.5,320.4 246.4,319.6 247.5,314.0" fill="#fb980f" stroke="rgba(255,248,235,.75)" stroke-width="0.85" stroke-linejoin="round" />
<polygon points="287.0,262.0 292.0,259.0 292.4,264.0 290.0,268.0 286.4,269.0 285.0,266.0" fill="#ffcb0a" stroke="rgba(255,248,235,.75)" stroke-width="0.85" stroke-linejoin="round" />
<polygon points="283.0,270.0 286.4,269.0 290.0,268.0 292.4,273.0 292.4,278.6 287.0,275.0 283.0,274.0" fill="#ffac0a" stroke="rgba(255,248,235,.75)" stroke-width="0.85" stroke-linejoin="round" />
<polygon points="292.4,259.0 297.0,255.0 300.0,257.0 306.0,255.0 313.0,257.0 314.4,263.0 315.6,270.0 310.0,273.0 312.0,279.0 309.0,283.0 302.0,285.0 295.0,284.0 294.0,283.0 292.4,278.6 292.4,273.0 290.0,268.0 292.4,264.0" fill="#ffac0a" stroke="rgba(255,248,235,.75)" stroke-width="0.85" stroke-linejoin="round" />
<polygon points="314.4,258.0 320.0,254.6 328.0,253.0 338.0,255.0 340.0,260.0 341.0,267.0 340.0,272.0 334.0,276.0 328.0,275.0 322.0,273.0 315.6,270.0 314.4,263.0" fill="#fb980f" stroke="rgba(255,248,235,.75)" stroke-width="0.85" stroke-linejoin="round" />
<polygon points="310.0,273.0 315.6,270.6 322.0,273.0 325.0,276.0 320.0,279.0 315.0,280.0 312.0,279.0" fill="#f88514" stroke="rgba(255,248,235,.75)" stroke-width="0.85" stroke-linejoin="round" />
<polygon points="325.0,276.0 328.0,275.0 334.0,276.0 335.0,278.6 329.0,281.0 323.0,281.0 320.0,279.0" fill="#f88514" stroke="rgba(255,248,235,.75)" stroke-width="0.85" stroke-linejoin="round" />
<polygon points="302.0,285.0 309.0,283.0 312.0,279.0 315.0,280.0 320.0,279.0 323.0,281.0 322.0,285.0 317.0,288.0 311.0,288.6 306.0,289.0" fill="#ffac0a" stroke="rgba(255,248,235,.75)" stroke-width="0.85" stroke-linejoin="round" />
<polygon points="292.4,287.0 295.0,284.0 302.0,285.0 303.0,288.6 299.0,291.0 294.0,291.0 290.4,290.0" fill="#ffcb0a" stroke="rgba(255,248,235,.75)" stroke-width="0.85" stroke-linejoin="round" />
<polygon points="318.2,292.8 319.8,290.0 323.8,288.8 329.4,288.4 332.6,289.6 331.0,292.0 327.0,295.2 323.8,294.8 320.6,293.6" fill="#f88514" stroke="rgba(255,248,235,.75)" stroke-width="0.85" stroke-linejoin="round" />
<polygon points="312.5,293.2 315.7,292.4 318.2,292.8 317.8,294.4 315.3,295.2 312.9,294.8" fill="#f88514" stroke="rgba(255,248,235,.75)" stroke-width="0.85" stroke-linejoin="round" />
<polygon points="312.9,294.8 315.3,295.2 317.8,294.4 318.2,292.8 320.6,293.6 323.8,294.8 327.0,295.2 327.8,297.3 325.8,296.5 323.0,296.0 319.8,295.6 318.2,296.5 319.0,298.9 321.0,301.3 323.4,303.7 325.4,305.7 323.8,304.9 321.4,302.9 319.0,300.5 316.9,298.1 316.1,295.6 314.1,296.0 313.3,297.3 312.5,295.6" fill="#f56503" stroke="rgba(255,248,235,.75)" stroke-width="0.85" stroke-linejoin="round" />
<polygon points="318.2,296.5 319.8,295.6 323.0,296.0 325.8,296.5 327.8,297.3 327.4,300.1 326.2,302.9 324.6,304.9 323.4,303.7 321.0,301.3 319.0,298.9" fill="#ee4206" stroke="rgba(255,248,235,.75)" stroke-width="0.85" stroke-linejoin="round" />
<polygon points="327.0,295.2 331.0,292.0 334.2,293.6 336.0,296.5 337.0,302.1 335.0,304.9 333.4,304.9 331.0,304.1 329.0,303.3 327.4,300.1 327.8,297.3" fill="#f56503" stroke="rgba(255,248,235,.75)" stroke-width="0.85" stroke-linejoin="round" />
<polygon points="324.6,304.9 326.2,302.9 327.4,300.1 329.0,303.3 331.0,304.1 330.2,305.7 329.0,306.9 327.0,306.5 325.8,305.7" fill="#f56503" stroke="rgba(255,248,235,.75)" stroke-width="0.85" stroke-linejoin="round" />
<polygon points="329.0,306.9 330.2,306.1 331.4,306.9 331.8,310.1 332.2,313.3 330.6,314.9 329.0,313.3 328.6,310.1" fill="#ee4206" stroke="rgba(255,248,235,.75)" stroke-width="0.85" stroke-linejoin="round" />
<polygon points="331.0,304.1 333.4,304.9 333.0,306.5 331.4,306.9 330.2,305.7" fill="#ee4206" stroke="rgba(255,248,235,.75)" stroke-width="0.85" stroke-linejoin="round" />
<polygon points="331.4,306.9 333.0,306.5 333.4,304.9 335.0,304.9 337.4,306.1 338.7,307.7 337.4,309.3 334.2,310.1 331.8,310.1" fill="#f56503" stroke="rgba(255,248,235,.75)" stroke-width="0.85" stroke-linejoin="round" />
<polygon points="298.9,292.0 302.1,290.4 306.1,289.6 310.1,290.0 310.9,292.0 312.5,293.2 315.7,292.4 318.2,292.8 319.8,290.0 318.2,286.4 308.5,285.6 299.7,286.8" fill="#ffac0a" stroke="rgba(255,248,235,.75)" stroke-width="0.85" stroke-linejoin="round" />
<polygon points="293.6,293.6 295.6,292.4 298.9,292.0 302.1,290.4 306.1,289.6 310.1,290.0 310.9,292.0 312.5,293.2 310.9,293.6 308.9,294.4 308.1,296.5 308.9,299.3 310.9,301.7 312.9,304.1 314.5,306.5 316.9,309.3 319.8,311.3 322.6,312.5 325.0,314.5 323.8,315.3 321.8,314.1 320.6,313.7 320.2,316.1 321.0,318.2 319.8,320.6 319.0,322.6 318.2,321.4 318.6,319.0 317.8,316.9 316.1,314.9 314.1,313.3 311.7,311.3 309.7,309.3 307.7,307.3 306.1,304.9 304.5,302.5 303.3,300.1 300.9,298.1 298.1,298.1 295.6,299.3 294.0,298.9 292.8,296.5" fill="#f56503" stroke="rgba(255,248,235,.75)" stroke-width="0.85" stroke-linejoin="round" />
<polygon points="297.3,312.1 299.7,311.7 300.5,314.1 299.7,317.8 297.7,318.2 296.9,315.3" fill="#f56503" stroke="rgba(255,248,235,.75)" stroke-width="0.85" stroke-linejoin="round" />
<polygon points="309.3,323.4 312.5,323.0 316.1,322.6 315.7,325.4 313.7,326.6 310.9,325.0" fill="#f56503" stroke="rgba(255,248,235,.75)" stroke-width="0.85" stroke-linejoin="round" />
<polygon points="334.0,288.0 339.0,282.0 344.0,281.0 349.0,283.0 352.0,282.0 352.6,286.0 354.0,290.0 356.0,292.0 355.0,296.0 351.0,298.0 344.0,297.0 338.0,299.0 334.6,295.0" fill="#f56503" stroke="rgba(255,248,235,.75)" stroke-width="0.85" stroke-linejoin="round" />
<polygon points="338.0,299.0 344.0,297.0 351.0,298.0 355.0,296.0 354.0,302.0 352.0,306.0 351.0,309.4 347.0,311.0 342.0,311.0 339.0,308.0 337.4,304.0" fill="#f56503" stroke="rgba(255,248,235,.75)" stroke-width="0.85" stroke-linejoin="round" />
<polygon points="352.0,282.0 355.0,285.0 357.0,288.0 356.0,292.0 354.0,290.0 352.6,286.0" fill="#ee4206" stroke="rgba(255,248,235,.75)" stroke-width="0.85" stroke-linejoin="round" />
<polygon points="337.0,267.0 342.0,266.0 349.0,268.0 355.0,265.0 362.0,264.0 368.0,266.0 373.0,271.0 381.0,273.0 386.0,277.0 385.0,283.0 381.0,285.0 377.4,288.0 373.0,290.0 370.0,293.0 371.4,296.0 374.0,296.6 377.4,294.0 376.0,291.4 373.0,290.0 370.0,293.0 367.0,291.0 364.0,288.0 360.0,290.0 357.0,288.0 355.0,285.0 352.0,282.0 349.0,283.0 344.0,281.0 339.0,282.0 336.0,278.0 338.0,273.0" fill="#e32003" stroke="rgba(255,248,235,.75)" stroke-width="0.85" stroke-linejoin="round" />
<polygon points="342.0,252.0 348.0,248.0 355.0,247.0 361.0,251.0 365.0,257.0 364.0,263.0 362.0,264.0 355.0,265.0 349.0,268.0 342.0,266.0 341.0,260.0" fill="#ee4206" stroke="rgba(255,248,235,.75)" stroke-width="0.85" stroke-linejoin="round" />
<polygon points="334.3,244.3 339.1,244.7 345.3,244.0 347.9,247.0 346.1,251.4 340.8,253.5 336.1,251.4 333.8,247.8" fill="#f88514" stroke="rgba(255,248,235,.75)" stroke-width="0.85" stroke-linejoin="round" />
<polygon points="330.3,252.2 336.1,251.7 337.3,254.0 331.1,254.5" fill="#e32003" stroke="rgba(255,248,235,.75)" stroke-width="0.85" stroke-linejoin="round" />
<polygon points="333.8,239.9 338.2,237.3 342.6,234.1 347.0,235.8 352.3,236.7 354.1,241.7 355.8,246.1 350.5,244.7 347.9,247.0 345.3,244.0 339.1,244.7 334.3,244.3" fill="#f88514" stroke="rgba(255,248,235,.75)" stroke-width="0.85" stroke-linejoin="round" />
<polygon points="340.8,229.3 347.0,228.1 354.1,227.0 355.0,232.0 352.3,236.4 347.0,235.8 342.6,234.1" fill="#fb980f" stroke="rgba(255,248,235,.75)" stroke-width="0.85" stroke-linejoin="round" />
<polygon points="331.8,310.1 334.2,310.1 337.4,309.3 338.9,310.3 342.9,310.7 347.7,311.1 350.2,308.7 352.6,309.5 351.8,311.5 348.5,312.3 344.5,311.9 341.3,312.3 338.9,313.5 337.3,315.1 338.1,317.5 337.3,319.9 338.9,321.5 340.5,322.7 338.1,322.3 336.9,321.5 337.7,323.9 338.1,326.4 336.5,326.8 335.3,324.7 334.1,322.7 334.5,321.1 333.3,319.9 332.1,317.9 330.6,314.9 332.2,313.3" fill="#f56503" stroke="rgba(255,248,235,.75)" stroke-width="0.85" stroke-linejoin="round" />
<polygon points="339.7,332.4 345.3,332.0 345.7,333.2 340.5,333.6" fill="#f56503" stroke="rgba(255,248,235,.75)" stroke-width="0.85" stroke-linejoin="round" />
<polygon points="350.2,308.7 352.6,308.0 354.6,310.1 352.6,311.5 351.8,311.5 352.6,309.5" fill="#f56503" stroke="rgba(255,248,235,.75)" stroke-width="0.85" stroke-linejoin="round" />
<polygon points="350.0,314.0 353.0,311.0 358.0,311.4 363.0,310.0 368.0,309.0 373.0,308.0 379.0,309.4 385.0,310.6 391.0,309.0 395.0,308.6 398.0,309.0 402.0,310.0 402.6,314.0 401.0,318.0 402.0,322.0 398.0,324.0 392.0,325.0 386.0,326.0 380.0,327.0 377.4,329.0 374.0,327.0 370.0,328.0 365.0,329.0 360.0,330.0 355.0,329.0 352.0,325.0 350.6,320.0" fill="#f56503" stroke="rgba(255,248,235,.75)" stroke-width="0.85" stroke-linejoin="round" />
<polygon points="391.0,302.0 395.0,303.0 400.0,305.0 404.0,307.0 405.0,310.0 402.0,310.0 398.0,309.0 395.0,308.6 393.0,305.0" fill="#f88514" stroke="rgba(255,248,235,.75)" stroke-width="0.85" stroke-linejoin="round" />
<polygon points="402.0,310.0 405.0,310.0 407.4,314.0 405.0,315.4 402.6,314.0" fill="#ee4206" stroke="rgba(255,248,235,.75)" stroke-width="0.85" stroke-linejoin="round" />
<polygon points="405.0,310.0 404.0,307.0 409.0,307.0 413.0,311.0 411.0,316.0 408.0,315.0 407.4,314.0" fill="#e32003" stroke="rgba(255,248,235,.75)" stroke-width="0.85" stroke-linejoin="round" />
<polygon points="410.0,296.0 414.0,291.0 419.0,288.0 422.0,287.4 422.0,326.0 419.0,324.0 415.0,319.0 413.0,313.0 412.0,307.0 409.0,302.0" fill="#dce9f1" stroke="rgba(255,248,235,.75)" stroke-width="0.85" stroke-linejoin="round" />
<polygon points="422.0,294.6 419.0,295.4 418.6,297.4 420.6,299.4 422.0,299.0" fill="#e32003" stroke="rgba(255,248,235,.75)" stroke-width="0.85" stroke-linejoin="round" />
<polygon points="355.0,294.0 358.0,290.0 360.0,290.0 364.0,288.0 367.0,291.0 370.0,293.0 371.4,296.0 374.0,296.6 377.4,294.0 376.0,291.4 377.4,288.0 381.0,285.0 385.0,285.0 383.0,288.0 380.0,290.0 382.0,294.0 386.0,297.4 391.0,301.0 393.0,305.0 391.0,308.6 385.0,310.0 379.0,309.0 373.0,307.4 368.0,308.6 363.0,309.4 358.0,311.0 354.0,310.0 353.0,305.0 354.0,299.0" fill="#dce9f1" stroke="rgba(255,248,235,.75)" stroke-width="0.85" stroke-linejoin="round" />
<polygon points="370.0,292.6 371.4,289.4 373.8,289.0 373.0,290.6 376.0,291.4 377.4,294.0 374.0,296.6 371.4,296.0" fill="#e32003" stroke="rgba(255,248,235,.75)" stroke-width="0.85" stroke-linejoin="round" />
<polygon points="368.0,339.0 373.0,337.4 372.6,340.0 369.0,341.0" fill="#fb980f" stroke="rgba(255,248,235,.75)" stroke-width="0.85" stroke-linejoin="round" />
<polygon points="377.4,329.0 380.0,327.0 386.0,326.0 392.0,325.0 398.0,324.0 397.0,329.0 392.0,333.0 391.2,335.3 384.1,342.4 381.5,344.1 377.9,345.0 374.4,343.8 375.3,342.4 374.9,339.2 376.6,333.0" fill="#e32003" stroke="rgba(255,248,235,.75)" stroke-width="0.85" stroke-linejoin="round" />
<polygon points="398.0,324.0 402.0,322.0 405.0,325.0 400.9,328.2 400.9,333.5 404.4,340.6 407.9,347.6 407.9,351.2 406.2,352.1 400.0,352.9 392.9,351.2 386.2,346.8 381.5,344.1 384.1,342.4 391.2,335.3 392.0,333.0 397.0,329.0" fill="#b51c05" stroke="rgba(255,248,235,.75)" stroke-width="0.85" stroke-linejoin="round" />
<polygon points="402.0,322.0 401.0,318.0 402.6,314.0 405.0,315.4 408.0,315.0 411.0,316.0 415.0,320.0 419.0,324.0 422.0,326.0 424.7,363.5 422.9,363.5 419.4,360.0 415.0,354.7 410.6,349.4 407.9,347.6 404.4,340.6 400.9,333.5 400.9,328.2 405.0,325.0" fill="#e32003" stroke="rgba(255,248,235,.75)" stroke-width="0.85" stroke-linejoin="round" />
<polygon points="372.6,340.6 374.9,339.2 375.3,342.4 373.2,344.1" fill="#e32003" stroke="rgba(255,248,235,.75)" stroke-width="0.85" stroke-linejoin="round" />
<polygon points="370.4,346.2 372.6,345.0 373.2,344.1 374.4,343.8 372.6,348.5 372.1,352.9 371.1,349.4" fill="#fb980f" stroke="rgba(255,248,235,.75)" stroke-width="0.85" stroke-linejoin="round" />
<polygon points="372.6,348.5 374.4,343.8 377.9,345.0 381.5,344.1 377.9,349.8 374.4,352.9 372.6,356.5 372.1,352.9" fill="#f56503" stroke="rgba(255,248,235,.75)" stroke-width="0.85" stroke-linejoin="round" />
<polygon points="406.2,352.1 407.9,351.2 409.2,353.8 407.9,354.7" fill="#f56503" stroke="rgba(255,248,235,.75)" stroke-width="0.85" stroke-linejoin="round" />
<polygon points="372.6,356.5 374.4,352.9 377.9,349.8 381.5,344.1 386.2,346.8 392.9,351.2 400.0,352.9 406.2,352.1 407.9,354.7 411.5,358.2 415.0,363.5 418.5,367.9 421.5,370.2 424.7,374.1 424.7,382.9 417.6,386.5 414.1,386.5 407.9,390.0 401.8,389.1 395.6,390.9 396.1,397.1 391.2,390.0 385.5,382.1 380.9,373.2 376.2,364.4" fill="#f56503" stroke="rgba(255,248,235,.75)" stroke-width="0.85" stroke-linejoin="round" />
<polygon points="395.6,390.9 401.8,389.1 407.9,390.0 414.1,386.5 417.6,386.5 422.9,382.9 424.7,388.2 417.6,391.8 410.6,397.1 403.5,399.7 396.8,401.5 396.1,397.1" fill="#b51c05" stroke="rgba(255,248,235,.75)" stroke-width="0.85" stroke-linejoin="round" />
</svg></div><svg width="625" height="510" viewBox="0 0 625 510" style="position:absolute;left:0;top:0">
<defs><clipPath id="cc"><circle cx="519" cy="404" r="96.5"/></clipPath>
<filter id="sh" x="-20%" y="-20%" width="140%" height="140%"><feGaussianBlur stdDeviation="2.2"/></filter></defs>
<circle cx="519" cy="405.5" r="99" fill="rgba(0,0,0,.35)" filter="url(#sh)"/>
<circle cx="519" cy="404" r="99" fill="#fff"/>
<g clip-path="url(#cc)"><rect x="400" y="290" width="240" height="230" fill="#dce9f1"/>
<polygon points="472.7,385.2 473.1,389.0 472.7,392.3 475.0,397.3 478.1,396.7 480.0,391.9 481.5,388.1 484.2,391.9 487.1,396.7 490.0,401.5 492.9,405.4 495.8,409.2 499.6,414.0 503.5,418.8 509.2,422.7 515.0,427.5 520.8,431.3 526.5,434.2 518.1,428.3 525.8,432.2 531.5,437.0 537.3,440.8 539.2,446.6 538.8,456.2 539.6,465.8 544.0,472.6 547.9,476.4 549.8,481.2 552.7,486.0 556.5,488.9 558.5,492.8 559.0,496.0 561.0,492.0 563.0,488.0 568.2,485.3 574.4,480.8 578.0,478.2 577.0,472.9 576.0,465.9 579.7,464.0 581.4,468.5 585.0,471.0 588.5,467.6 591.0,462.3 598.2,461.4 600.0,451.7 640.0,440.0 640.0,300.0 400.0,300.0 400.0,360.0 471.7,357.3 472.3,378.5" fill="#f56503" stroke="rgba(255,255,255,.8)" stroke-width="0.9" stroke-linejoin="round" />
<polygon points="400.0,300.0 470.0,300.0 471.7,357.3 472.3,378.5 472.7,385.2 469.8,384.2 465.4,385.2 460.2,387.7 457.7,391.0 459.2,395.8 457.7,400.6 459.6,406.3 463.1,412.1 468.8,417.9 472.7,422.7 476.5,429.4 481.3,435.2 488.3,440.8 495.4,444.7 501.7,444.3 502.7,446.6 499.8,449.5 502.7,452.4 510.4,457.2 519.0,462.4 525.8,467.8 528.1,472.0 526.7,475.1 523.8,473.9 521.0,469.7 516.2,466.8 512.3,466.8 509.4,469.7 507.5,475.5 509.4,480.3 512.3,483.2 511.3,487.0 507.5,488.9 505.6,493.7 503.7,497.6 499.8,498.2 498.8,494.7 502.3,490.5 501.7,486.0 499.8,480.3 496.9,474.5 493.1,470.7 488.3,468.7 486.3,464.9 482.5,462.4 478.7,461.6 475.8,458.2 470.0,453.3 465.2,452.4 461.3,447.6 456.5,442.8 450.8,437.0 445.0,434.1 441.9,431.3 438.1,426.5 436.2,420.8 431.3,415.4 426.5,410.2 420.8,406.3 411.2,403.5" fill="#f56503" stroke="rgba(255,255,255,.8)" stroke-width="0.9" stroke-linejoin="round" />
<polygon points="422.7,365.0 433.3,365.0 432.7,370.8 430.4,373.8 426.5,373.1 423.7,370.8" fill="#ffcb0a" stroke="rgba(255,255,255,.8)" stroke-width="0.9" stroke-linejoin="round" />
<polygon points="471.7,365.0 501.5,365.0 499.6,373.7 495.8,370.8 487.1,372.3 478.5,370.8 471.7,372.7" fill="#ffac0a" stroke="rgba(255,255,255,.8)" stroke-width="0.9" stroke-linejoin="round" />
<polygon points="471.7,372.7 478.5,370.8 487.1,372.3 495.8,370.8 499.6,373.7 496.7,378.5 493.8,384.2 492.9,388.1 486.2,387.1 480.4,388.1 474.6,387.7 472.7,385.2 472.3,378.5" fill="#f88514" stroke="rgba(255,255,255,.8)" stroke-width="0.9" stroke-linejoin="round" />
<polygon points="499.6,373.7 501.5,365.0 561.7,365.0 561.7,367.9 556.9,373.7 549.2,376.5 540.6,377.5 532.9,381.3 524.2,383.3 516.5,380.4 510.8,374.6 507.3,376.5" fill="#f88514" stroke="rgba(255,255,255,.8)" stroke-width="0.9" stroke-linejoin="round" />
<polygon points="497.7,393.8 505.4,391.9 515.0,392.9 510.8,391.9 520.4,393.8 530.0,394.8 536.7,397.7 535.8,403.5 539.6,410.2 537.7,416.9 534.8,419.8 530.0,424.6 527.1,431.3 525.8,431.2 521.0,428.3 530.4,431.3 526.5,428.5 522.7,424.6 516.9,420.8 511.2,416.0 506.3,410.2 501.5,403.5 498.1,398.7" fill="#ee4206" stroke="rgba(255,255,255,.8)" stroke-width="0.9" stroke-linejoin="round" />
<polygon points="532.9,381.3 540.6,377.5 549.2,376.5 556.0,384.2 561.7,391.9 562.7,399.6 570.4,400.6 576.2,403.5 579.0,409.2 574.2,415.0 576.2,422.7 579.0,426.5 574.2,432.3 573.3,438.1 564.6,434.2 559.8,428.5 554.0,424.6 551.2,428.5 546.3,431.3 546.3,426.5 540.6,422.7 534.8,419.8 537.7,416.9 539.6,410.2 535.8,403.5 536.7,397.7 534.8,390.0" fill="#f56503" stroke="rgba(255,255,255,.8)" stroke-width="0.9" stroke-linejoin="round" />
<polygon points="534.8,419.8 540.6,422.7 546.3,426.5 546.3,431.3 541.5,435.2 537.7,439.0 532.9,436.2 528.1,431.3 530.0,424.6" fill="#f56503" stroke="rgba(255,255,255,.8)" stroke-width="0.9" stroke-linejoin="round" />
<polygon points="546.3,431.3 551.2,428.5 554.0,424.6 559.8,428.5 564.6,434.2 560.8,439.0 554.0,441.9 550.2,438.1" fill="#ee4206" stroke="rgba(255,255,255,.8)" stroke-width="0.9" stroke-linejoin="round" />
<polygon points="537.7,439.0 541.5,435.2 546.3,431.3 550.2,438.1 554.0,441.9 551.2,447.7 552.1,455.4 556.5,460.1 553.7,467.8 548.8,475.5 544.0,471.6 540.2,465.8 539.2,456.2 540.2,446.6 538.3,440.8" fill="#ee4206" stroke="rgba(255,255,255,.8)" stroke-width="0.9" stroke-linejoin="round" />
<polygon points="554.0,441.9 560.8,439.0 564.6,434.2 573.3,438.1 579.0,441.9 580.0,448.7 576.2,453.5 568.5,456.3 560.8,458.3 555.4,459.2 552.1,455.4 551.2,447.7" fill="#f56503" stroke="rgba(255,255,255,.8)" stroke-width="0.9" stroke-linejoin="round" />
<polygon points="579.0,409.2 587.7,413.1 597.3,415.0 608.8,416.9 615.6,414.0 628.1,413.1 628.1,449.6 605.0,450.6 597.3,449.6 587.7,451.5 580.0,448.7 579.0,441.9 573.3,438.1 574.2,432.3 579.0,426.5 576.2,422.7 574.2,415.0" fill="#f56503" stroke="rgba(255,255,255,.8)" stroke-width="0.9" stroke-linejoin="round" />
<polygon points="549.2,376.5 556.9,373.7 561.7,367.9 561.7,361.2 628.1,361.2 628.1,413.1 615.6,414.0 608.8,416.9 597.3,415.0 587.7,413.1 579.0,409.2 576.2,403.5 570.4,400.6 562.7,399.6 561.7,391.9 556.0,384.2" fill="#f56503" stroke="rgba(255,255,255,.8)" stroke-width="0.9" stroke-linejoin="round" />
<polygon points="482.3,391.9 483.8,391.5 486.5,395.8 488.1,399.2 486.5,399.2 484.2,395.8" fill="#f56503" stroke="rgba(255,255,255,.8)" stroke-width="0.9" stroke-linejoin="round" />
<polygon points="489.0,401.5 490.4,401.2 492.9,405.0 491.5,405.4" fill="#f56503" stroke="rgba(255,255,255,.8)" stroke-width="0.9" stroke-linejoin="round" />
<polygon points="502.5,420.4 506.3,420.8 510.2,423.7 506.9,423.7 503.5,422.3" fill="#f56503" stroke="rgba(255,255,255,.8)" stroke-width="0.9" stroke-linejoin="round" />
<polygon points="506.9,425.0 511.2,425.6 515.0,428.5 511.2,428.5" fill="#f56503" stroke="rgba(255,255,255,.8)" stroke-width="0.9" stroke-linejoin="round" />
<polygon points="552.7,487.4 556.2,486.6 558.8,489.3 558.5,492.0 555.6,490.8" fill="#f56503" stroke="rgba(255,255,255,.8)" stroke-width="0.9" stroke-linejoin="round" />
</g></svg><div id="legend">
<div class="lg" style="left:8px;top:12px">Visoko</div>
<div class="lg" style="left:8px;top:27px">korumpirane</div>
<div id="bar"></div>
<div class="tk" style="left:92.4px;border-top:3px solid #8e1a0a"></div>
<div class="lb" style="left:92.4px">0-9</div>
<div class="tk" style="left:122.8px;border-top:3px solid #b01c08"></div>
<div class="lb" style="left:122.8px">10-19</div>
<div class="tk" style="left:153.2px;border-top:3px solid #d8200a"></div>
<div class="lb" style="left:153.2px">20-29</div>
<div class="tk" style="left:183.6px;border-top:3px solid #f23c05"></div>
<div class="lb" style="left:183.6px">30-39</div>
<div class="tk" style="left:214.0px;border-top:3px solid #f76808"></div>
<div class="lb" style="left:214.0px">40-49</div>
<div class="tk" style="left:244.4px;border-top:3px solid #fb8a08"></div>
<div class="lb" style="left:244.4px">50-59</div>
<div class="tk" style="left:274.8px;border-top:3px solid #fea30a"></div>
<div class="lb" style="left:274.8px">60-69</div>
<div class="tk" style="left:305.2px;border-top:3px solid #ffb90a"></div>
<div class="lb" style="left:305.2px">70-79</div>
<div class="tk" style="left:335.6px;border-top:3px solid #ffcd0a"></div>
<div class="lb" style="left:335.6px">80-89</div>
<div class="tk" style="left:366.0px;border-top:3px solid #ffe005"></div>
<div class="lb" style="left:366.0px">90-100</div>
<div class="lg" style="left:389px;top:17.6px;transform:scaleX(.765)">Nekorumpirane</div>
</div><div id="tip">
<div class="lg" style="left:10px;top:14px;font-size:16px;line-height:16px;transform:scaleX(.665);letter-spacing:.3px">HRVATSKA</div>
<div class="hr" style="top:35.3px"></div>
<div class="k" style="left:10px;top:50.3px">2014. bodovi</div>
<div class="k" style="left:82px;top:49.3px">mjesto</div>
<div class="v" style="left:10px;top:65px">48</div>
<div class="v" style="left:82px;top:65px">61<span style="color:#e8321c;font-size:10.5px">/ 175</span></div>
<div class="hr" style="top:95.6px"></div>
<div class="k" style="left:10px;top:105.3px">2013. bodovi</div>
<div class="k" style="left:84px;top:105.3px">2012. bodovi</div>
<div class="v" style="left:11px;top:123.2px">48</div>
<div class="v" style="left:85px;top:123.2px">46</div>
</div>
</body></html>
